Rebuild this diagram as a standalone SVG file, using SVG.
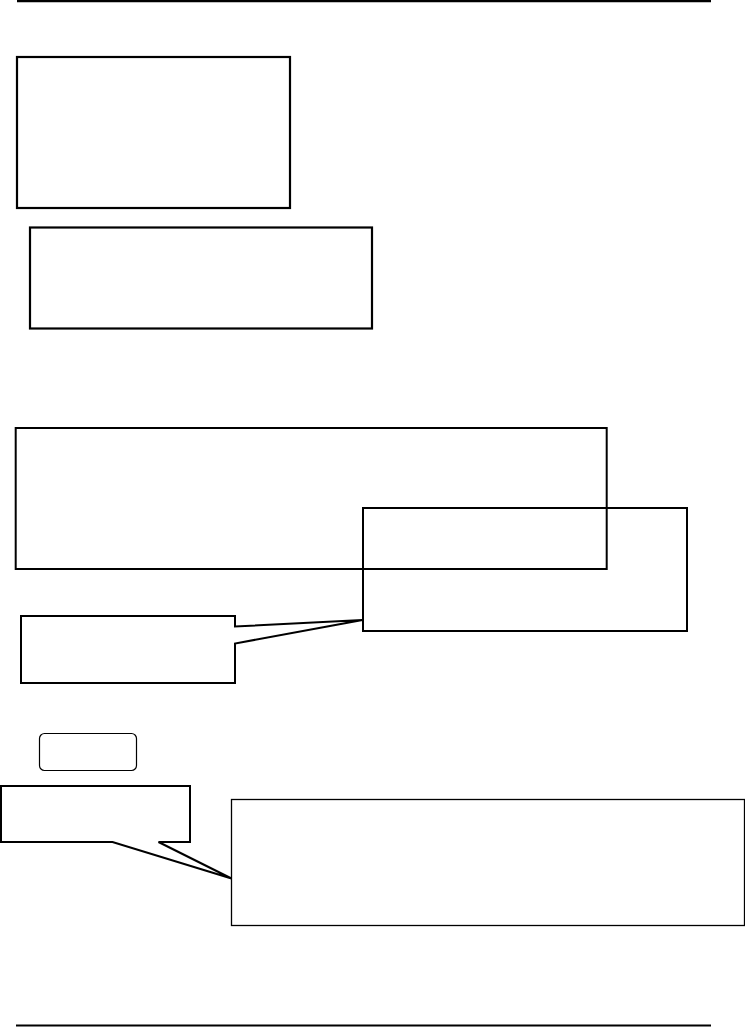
<svg xmlns="http://www.w3.org/2000/svg" width="745" height="1028" viewBox="0 0 745 1028">
<style>
.b{fill:none;stroke:#000;stroke-linejoin:miter}
.t{stroke-width:2.2}
.m{stroke-width:2}
.n{stroke-width:1.3}
</style>
<rect width="745" height="1028" fill="#fff"/>
<g id="rules">
<line x1="17" y1="1" x2="711" y2="1" stroke="#000" stroke-width="2.5"/>
<line x1="16" y1="1025.5" x2="711" y2="1025.5" stroke="#000" stroke-width="2.2"/>
</g>
<g id="box1"><rect class="b t" x="17" y="57" width="273" height="151"/></g>
<g id="box2"><rect class="b t" x="30" y="227.5" width="342" height="101"/></g>
<g id="box3"><rect class="b m" x="15.7" y="428" width="591" height="141"/></g>
<g id="box4"><rect class="b m" x="363" y="508" width="324" height="123"/></g>
<g id="callout1"><path class="b m" d="M21,616 H235 V626.5 L362.5,620 L235,643.5 V683 H21 Z"/></g>
<g id="roundbox"><rect class="b" stroke-width="1.2" x="39.5" y="733.5" width="97" height="37" rx="5"/></g>
<g id="callout2"><path class="b m" d="M1,786 H190 V842 H158.5 L231.5,878.5 L112.5,842 H1 Z"/></g>
<g id="box7"><rect class="b n" x="231.5" y="799.5" width="513" height="126"/></g>
<g id="connectors"></g>
</svg>
